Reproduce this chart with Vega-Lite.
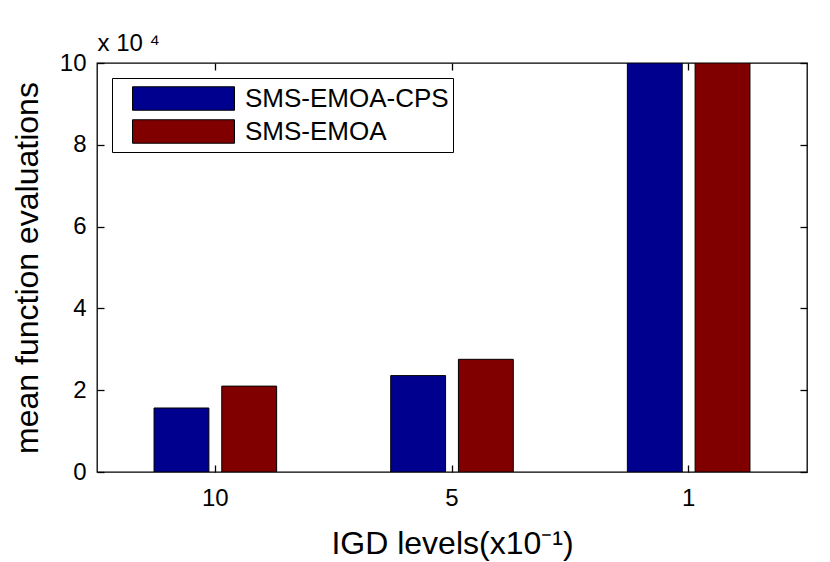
{
  "$schema": "https://vega.github.io/schema/vega-lite/v6.json",
  "description": "Mean function evaluations needed to reach each IGD level, SMS-EMOA-CPS vs SMS-EMOA.",
  "width": 710,
  "height": 409,
  "autosize": {"type": "none"},
  "padding": {"left": 97, "top": 63, "right": 23, "bottom": 90},
  "background": "white",
  "data": {
    "values": [
      {"level": "10", "method": "SMS-EMOA-CPS", "evals": 15650},
      {"level": "10", "method": "SMS-EMOA", "evals": 21000},
      {"level": "5", "method": "SMS-EMOA-CPS", "evals": 23570},
      {"level": "5", "method": "SMS-EMOA", "evals": 27550},
      {"level": "1", "method": "SMS-EMOA-CPS", "evals": 100000},
      {"level": "1", "method": "SMS-EMOA", "evals": 100000}
    ]
  },
  "layer": [
    {
      "mark": {"type": "bar", "stroke": "black", "strokeWidth": 1, "clip": true},
      "encoding": {
        "x": {
          "field": "level",
          "type": "nominal",
          "sort": ["10", "5", "1"],
          "scale": {"paddingInner": 0.482, "paddingOuter": 0.241},
          "axis": {"orient": "bottom", "title": "IGD levels(x10⁻¹)", "labelAngle": 0}
        },
        "xOffset": {
          "field": "method",
          "type": "nominal",
          "sort": ["SMS-EMOA-CPS", "SMS-EMOA"],
          "scale": {"paddingInner": 0.19, "paddingOuter": 0}
        },
        "y": {
          "field": "evals",
          "type": "quantitative",
          "scale": {"domain": [0, 100000], "nice": false},
          "axis": {
            "values": [0, 20000, 40000, 60000, 80000, 100000],
            "labelExpr": "datum.value / 10000",
            "title": "mean function evaluations"
          }
        },
        "color": {
          "field": "method",
          "type": "nominal",
          "sort": ["SMS-EMOA-CPS", "SMS-EMOA"],
          "scale": {"domain": ["SMS-EMOA-CPS", "SMS-EMOA"], "range": ["#00008F", "#800000"]},
          "legend": {"title": null}
        }
      }
    },
    {
      "mark": {"type": "bar", "opacity": 0},
      "encoding": {
        "x": {
          "field": "level",
          "type": "nominal",
          "sort": ["10", "5", "1"],
          "axis": {"orient": "top", "labels": false, "title": null}
        },
        "y": {
          "field": "evals",
          "type": "quantitative",
          "axis": {
            "orient": "right",
            "values": [0, 20000, 40000, 60000, 80000, 100000],
            "labels": false,
            "title": "x 10 ⁴",
            "titleX": -710,
            "titleY": -13,
            "titleAngle": 0,
            "titleAlign": "left",
            "titleBaseline": "alphabetic",
            "titleFontSize": 24
          }
        }
      }
    }
  ],
  "resolve": {"axis": {"x": "independent", "y": "independent"}},
  "config": {
    "font": "Liberation Sans",
    "view": {"stroke": "black", "strokeWidth": 1.3},
    "axis": {
      "domain": false,
      "grid": false,
      "ticks": true,
      "tickColor": "black",
      "tickSize": -7,
      "tickWidth": 1.3,
      "labelColor": "black",
      "labelFontSize": 24,
      "labelFont": "Liberation Sans",
      "titleFont": "Liberation Sans",
      "titleFontSize": 32,
      "titleFontWeight": "normal",
      "titleColor": "black"
    },
    "axisY": {"labelPadding": 18, "titlePadding": 15},
    "axisX": {"labelPadding": 21, "titlePadding": 18},
    "legend": {
      "orient": "top-left",
      "offset": 15,
      "strokeColor": "black",
      "fillColor": "white",
      "padding": 4,
      "symbolType": "M-1,-0.23H1V0.23H-1Z",
      "symbolSize": 10404,
      "symbolStrokeColor": "black",
      "symbolStrokeWidth": 1,
      "symbolOpacity": 1,
      "labelFontSize": 26,
      "labelLimit": 400,
      "labelColor": "black",
      "labelFont": "Liberation Sans",
      "clipHeight": 33,
      "rowPadding": 0,
      "symbolOffset": 16,
      "labelOffset": 10
    }
  }
}
